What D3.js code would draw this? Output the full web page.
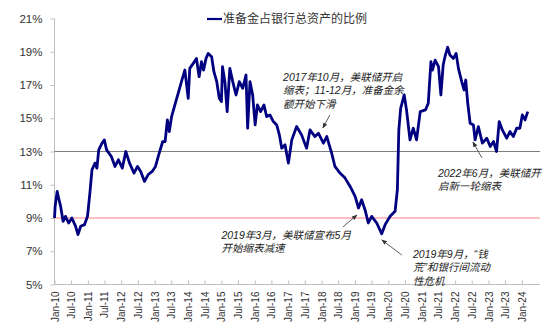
<!DOCTYPE html>
<html><head><meta charset="utf-8">
<script src="https://cdn.jsdelivr.net/npm/d3@7"></script>
<style>
html,body{margin:0;padding:0;background:#fff;}
svg text{font-family:"Liberation Sans",Arial,"Noto Sans CJK SC",sans-serif;}
</style></head>
<body><svg id="c" width="550" height="333"></svg>
<script>
const seriesName = "准备金占银行总资产的比例";
const dates = ["2010-01-01","2010-01-08","2010-01-30","2010-02-15","2010-03-09","2010-04-05","2010-05-01","2010-06-05","2010-07-10","2010-08-20","2010-09-15","2010-10-15","2010-11-25","2010-12-28",
"2011-01-23","2011-02-15","2011-03-20","2011-04-10","2011-04-30","2011-06-05","2011-06-30","2011-07-25","2011-09-15","2011-10-25","2011-12-01",
"2012-01-13","2012-02-20","2012-04-01","2012-05-20","2012-06-27","2012-08-01","2012-09-12","2012-10-20","2012-12-05",
"2013-01-10","2013-02-14","2013-03-30","2013-04-25","2013-05-20","2013-06-10","2013-07-05","2013-08-10","2013-09-15","2013-10-21","2013-11-27",
"2014-01-03","2014-01-20","2014-02-27","2014-04-03","2014-05-02","2014-05-28","2014-06-20","2014-07-17","2014-08-10","2014-09-16","2014-10-11","2014-11-11","2014-12-09",
"2015-01-01","2015-01-13","2015-02-08","2015-03-05","2015-04-03","2015-05-05","2015-06-10","2015-07-16","2015-08-22","2015-09-27","2015-10-15","2015-11-10","2015-12-09",
"2016-01-05","2016-01-30","2016-03-05","2016-04-11","2016-05-10","2016-06-15","2016-07-22","2016-08-28","2016-09-26","2016-10-22","2016-11-27",
"2017-01-03","2017-02-09","2017-04-03","2017-05-27","2017-07-21","2017-08-27","2017-10-21","2017-11-27",
"2018-01-21","2018-02-27","2018-04-21","2018-05-27","2018-07-21","2018-09-15","2018-11-09",
"2019-01-03","2019-02-09","2019-03-15","2019-04-21","2019-05-27","2019-07-03","2019-08-27","2019-10-21","2019-11-27",
"2020-01-21","2020-03-15","2020-04-09","2020-04-25","2020-05-15","2020-06-23","2020-07-18","2020-08-25","2020-09-30","2020-11-05","2020-12-15",
"2021-02-10","2021-03-13","2021-04-11","2021-04-28","2021-05-27","2021-07-03","2021-07-29","2021-08-23","2021-09-12","2021-10-11","2021-11-05","2021-12-13",
"2022-01-12","2022-02-06","2022-03-14","2022-04-08","2022-04-27","2022-05-19","2022-06-14","2022-07-20","2022-08-07","2022-09-12","2022-10-26","2022-12-14",
"2023-01-20","2023-02-25","2023-03-30","2023-04-28","2023-06-01","2023-07-19","2023-08-24","2023-09-30","2023-11-05","2023-12-10",
"2024-01-06","2024-02-05","2024-03-05"];
const values = [9.0,9.7,10.6,10.2,9.7,8.8,9.1,8.7,9.0,8.5,8.0,8.5,8.6,9.1,
10.5,11.9,12.3,12.0,13.1,13.5,13.7,13.1,12.7,12.1,12.5,
12.0,13.0,12.3,11.7,12.1,11.8,11.2,11.6,11.8,
12.1,12.8,13.6,13.6,14.9,14.2,15.1,15.8,16.5,17.2,17.9,
16.2,18.0,18.3,18.6,17.5,18.4,17.9,18.6,18.9,18.7,17.8,17.2,16.2,
16.0,18.1,17.2,15.4,18.0,17.2,16.4,17.2,16.8,17.6,14.4,17.2,16.4,
14.6,15.8,15.4,15.8,15.1,15.2,14.8,14.6,14.0,13.2,13.4,
12.3,13.7,14.5,14.0,13.2,14.3,13.9,14.1,
13.5,13.9,12.9,12.1,11.7,11.4,10.9,
10.3,9.6,10.1,9.5,8.7,9.1,8.7,8.05,8.6,
9.1,9.4,10.7,14.3,15.6,16.4,15.5,13.7,14.4,13.7,15.4,
15.5,15.9,18.4,17.9,18.5,18.1,16.4,18.2,18.7,19.27,18.8,18.6,
18.9,18.0,17.2,16.7,17.3,15.9,14.7,14.6,13.7,14.5,13.5,13.8,
13.3,13.6,13.0,14.8,14.3,13.8,14.2,13.9,14.4,14.4,
15.2,14.9,15.4];
const yTicks = [5,7,9,11,13,15,17,19,21];
const xTickDates = ["2010-01","2010-07","2011-01","2011-07","2012-01","2012-07","2013-01","2013-07","2014-01","2014-07","2015-01","2015-07","2016-01","2016-07","2017-01","2017-07","2018-01","2018-07","2019-01","2019-07","2020-01","2020-07","2021-01","2021-07","2022-01","2022-07","2023-01","2023-07","2024-01"];
const refLines = [{v:13,color:"#7f7f7f"},{v:9,color:"#ff7c80"}];
const annotations = [
  {lines:["2017年10月，美联储开启","缩表；11-12月，准备金余","额开始下滑"], tx:"2016-11-06", ty:17.24, ax0:"2018-04-01", ay0:15.2, ax1:"2018-01-15", ay1:14.41},
  {lines:["2019年3月，美联储宣布5月","开始缩表减速"], tx:"2015-01-01", ty:7.74, ax0:"2018-08-22", ay0:8.46, ax1:"2019-01-22", ay1:9.18},
  {lines:["2019年9月，“钱","荒”和银行间流动","性危机"], tx:"2020-09-27", ty:6.59, ax0:"2020-05-28", ay0:6.77, ax1:"2019-10-22", ay1:7.68},
  {lines:["2022年6月，美联储开","启新一轮缩表"], tx:"2021-06-27", ty:11.47, ax0:"2022-10-22", ay0:12.61, ax1:"2022-07-14", ay1:13.57}
];

const P = d3.timeParse("%Y-%m-%d"), PM = d3.timeParse("%Y-%m");
const data = dates.map((d,i)=>({d:P(d), v:values[i]}));
const svg = d3.select("#c");
const x = d3.scaleTime().domain([P("2010-01-01"), P("2024-07-01")]).range([54.5, 538.5]);
const y = d3.scaleLinear().domain([5,21]).range([284.5, 18.5]);

// axes
const yAx = svg.append("g").attr("transform","translate(54.5,0)")
  .call(d3.axisLeft(y).tickValues(yTicks).tickFormat(d=>d+"%").tickSize(4).tickPadding(8));
yAx.select(".domain").attr("stroke","#bfbfbf").attr("d","M0,18.5V284.5");
yAx.selectAll(".tick line").attr("stroke","#bfbfbf");
yAx.selectAll("text").attr("font-size","11.5px").attr("fill","#333");

const xAx = svg.append("g").attr("transform","translate(0,284.5)")
  .call(d3.axisBottom(x).tickValues(xTickDates.map(PM)).tickFormat(d3.timeFormat("%b-%y")).tickSize(-4).tickPadding(0));
xAx.select(".domain").attr("stroke","#bfbfbf").attr("d","M54.5,0H540");
xAx.selectAll(".tick line").attr("stroke","#bfbfbf");
xAx.selectAll("text").attr("font-size","10px").attr("fill","#333")
  .attr("text-anchor","end").attr("dy","0.35em").attr("transform","translate(0,7) rotate(-90)").attr("y",0).attr("x",0);

// reference lines
refLines.forEach(r=>{
  svg.append("line").attr("x1",54.5).attr("x2",540).attr("y1",y(r.v)).attr("y2",y(r.v))
    .attr("stroke",r.color).attr("stroke-width",1);
});

// series
svg.append("path").datum(data).attr("fill","none").attr("stroke","#000080").attr("stroke-width",2.8)
  .attr("stroke-linejoin","round")
  .attr("d", d3.line().x(d=>x(d.d)).y(d=>y(d.v)));

// legend
svg.append("line").attr("x1",207).attr("x2",222).attr("y1",19).attr("y2",19).attr("stroke","#000080").attr("stroke-width",2.2);
svg.append("text").attr("x",223).attr("y",19).attr("dy","0.35em").attr("font-size","12px").attr("fill","#333").text(seriesName);

// annotations
svg.append("defs").append("marker").attr("id","ah").attr("viewBox","0 0 10 10").attr("refX",9).attr("refY",5)
  .attr("markerWidth",7).attr("markerHeight",7).attr("orient","auto")
  .append("path").attr("d","M0,1L10,5L0,9z").attr("fill","#333");
annotations.forEach(a=>{
  const t = svg.append("text").attr("x",x(P(a.tx))).attr("y",y(a.ty)).attr("font-size","10.5px")
    .attr("font-style","italic").attr("fill","#222");
  a.lines.forEach((l,i)=>t.append("tspan").attr("x",x(P(a.tx))).attr("dy", i?13.3:0).text(l));
  svg.append("line").attr("x1",x(P(a.ax0))).attr("y1",y(a.ay0)).attr("x2",x(P(a.ax1))).attr("y2",y(a.ay1))
    .attr("stroke","#333").attr("stroke-width",0.8).attr("marker-end","url(#ah)");
});
</script></body></html>
